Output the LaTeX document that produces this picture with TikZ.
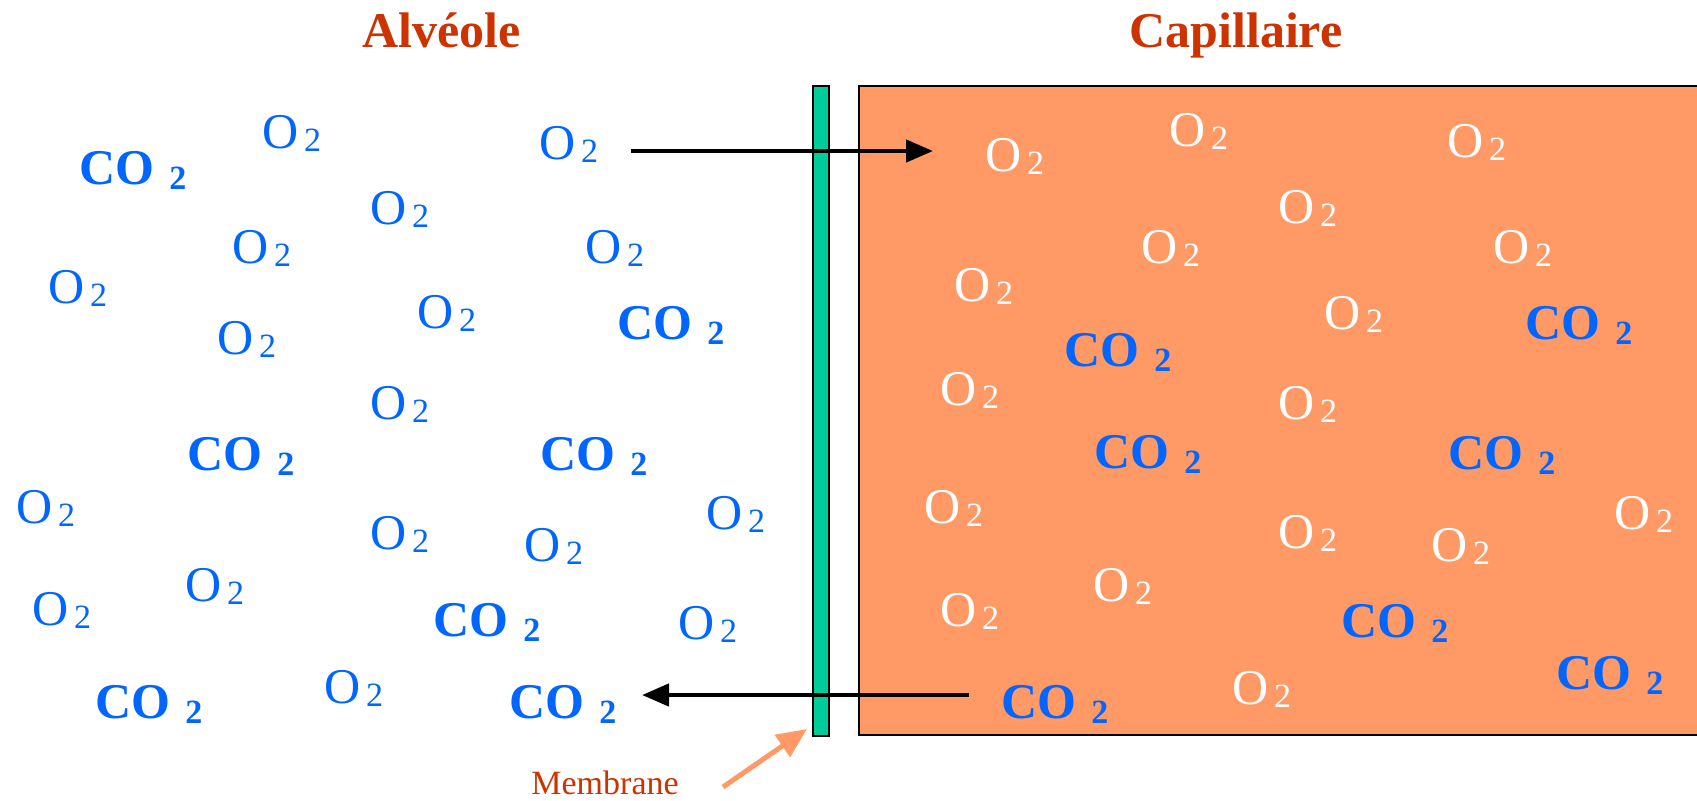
\documentclass[tikz,border=0pt]{standalone}
\usepackage{fontspec}
\setmainfont{Liberation Serif}
\usetikzlibrary{arrows.meta}
\definecolor{molblue}{HTML}{0066FF}
\definecolor{titlered}{HTML}{CC3300}
\definecolor{memgreen}{HTML}{00CC99}
\definecolor{capfill}{HTML}{FF9966}
\newcommand{\Oxy}{O\kern2.75pt\raisebox{-1.6pt}{\fontsize{17pt}{17pt}\selectfont 2}}
\newcommand{\COxy}{\textbf{CO\kern7.5pt\raisebox{-2.5pt}{\fontsize{17pt}{17pt}\selectfont 2}}}
\tikzset{
  mol/.style={anchor=base west, inner sep=0pt, font=\fontsize{25pt}{30pt}\selectfont},
  oxl/.style={mol, text=molblue},
  oxr/.style={mol, text=white},
  co/.style={mol, text=molblue},
  titletext/.style={anchor=base west, inner sep=0pt, font=\fontsize{25pt}{30pt}\selectfont\bfseries, text=titlered},
  memlabel/.style={anchor=base west, inner sep=0pt, font=\fontsize{17pt}{20pt}\selectfont, text=titlered},
  flow/.style={line width=2.25pt, -{Triangle[length=13.5pt,width=11pt]}},
  memarrow/.style={line width=2.5pt, draw=capfill, -{Triangle[length=15pt,width=13pt]}},
  border/.style={line width=1pt, draw=black}
}
\begin{document}
\begin{tikzpicture}[x=0.5pt,y=-0.5pt]
\useasboundingbox (0,0) rectangle (1697,800);
% capillary
\fill[capfill] (859,86) rectangle (1697,735);
\draw[border] (1697,86) -- (859,86) -- (859,735) -- (1697,735);
% membrane
\draw[border, fill=memgreen] (813,86) rectangle (829,736);
% titles
\node[titletext] (talv) at (362,47) {Alvéole};
\node[titletext] (tcap) at (1129,47) {Capillaire};
% left molecules
\node[co]  (l1)  at (79,184)  {\COxy};
\node[oxl] (l2)  at (262,148) {\Oxy};
\node[oxl] (l3)  at (539,159) {\Oxy};
\node[oxl] (l4)  at (370,224) {\Oxy};
\node[oxl] (l5)  at (232,263) {\Oxy};
\node[oxl] (l6)  at (585,263) {\Oxy};
\node[oxl] (l7)  at (48,303)  {\Oxy};
\node[oxl] (l8)  at (417,328) {\Oxy};
\node[co]  (l9)  at (617,339) {\COxy};
\node[oxl] (l10) at (217,354) {\Oxy};
\node[oxl] (l11) at (370,419) {\Oxy};
\node[co]  (l12) at (187,470) {\COxy};
\node[co]  (l13) at (540,470) {\COxy};
\node[oxl] (l14) at (16,523)  {\Oxy};
\node[oxl] (l15) at (370,549) {\Oxy};
\node[oxl] (l16) at (524,561) {\Oxy};
\node[oxl] (l17) at (706,529) {\Oxy};
\node[oxl] (l18) at (185,601) {\Oxy};
\node[oxl] (l19) at (32,625)  {\Oxy};
\node[co]  (l20) at (433,636) {\COxy};
\node[oxl] (l21) at (678,639) {\Oxy};
\node[co]  (l22) at (95,718)  {\COxy};
\node[oxl] (l23) at (324,703) {\Oxy};
\node[co]  (l24) at (509,718) {\COxy};
% right molecules
\node[oxr] (r1)  at (985,171)  {\Oxy};
\node[oxr] (r2)  at (1169,146) {\Oxy};
\node[oxr] (r3)  at (1447,157) {\Oxy};
\node[oxr] (r4)  at (1278,223) {\Oxy};
\node[oxr] (r5)  at (1141,263) {\Oxy};
\node[oxr] (r6)  at (1493,263) {\Oxy};
\node[oxr] (r7)  at (954,301)  {\Oxy};
\node[oxr] (r8)  at (1324,329) {\Oxy};
\node[co]  (r9)  at (1064,366) {\COxy};
\node[co]  (r10) at (1525,339) {\COxy};
\node[oxr] (r11) at (940,405)  {\Oxy};
\node[oxr] (r12) at (1278,419) {\Oxy};
\node[co]  (r13) at (1094,468) {\COxy};
\node[co]  (r14) at (1448,469) {\COxy};
\node[oxr] (r15) at (924,523)  {\Oxy};
\node[oxr] (r16) at (1614,529) {\Oxy};
\node[oxr] (r17) at (1278,548) {\Oxy};
\node[oxr] (r18) at (1431,561) {\Oxy};
\node[oxr] (r19) at (1093,601) {\Oxy};
\node[oxr] (r20) at (940,626)  {\Oxy};
\node[co]  (r21) at (1341,637) {\COxy};
\node[co]  (r22) at (1556,689) {\COxy};
\node[co]  (r23) at (1001,718) {\COxy};
\node[oxr] (r24) at (1232,704) {\Oxy};
% exchange arrows
\coordinate (oS) at (631,151);
\coordinate (oE) at (933,151);
\coordinate (cS) at (969,695);
\coordinate (cE) at (642,695);
\draw[flow] (oS) -- (oE);
\draw[flow] (cS) -- (cE);
% membrane label
\node[memlabel] (mlab) at (531,794) {Membrane};
\coordinate (mS) at (723,787);
\coordinate (mE) at (807,729);
\draw[memarrow] (mS) -- (mE);
\end{tikzpicture}
\end{document}
